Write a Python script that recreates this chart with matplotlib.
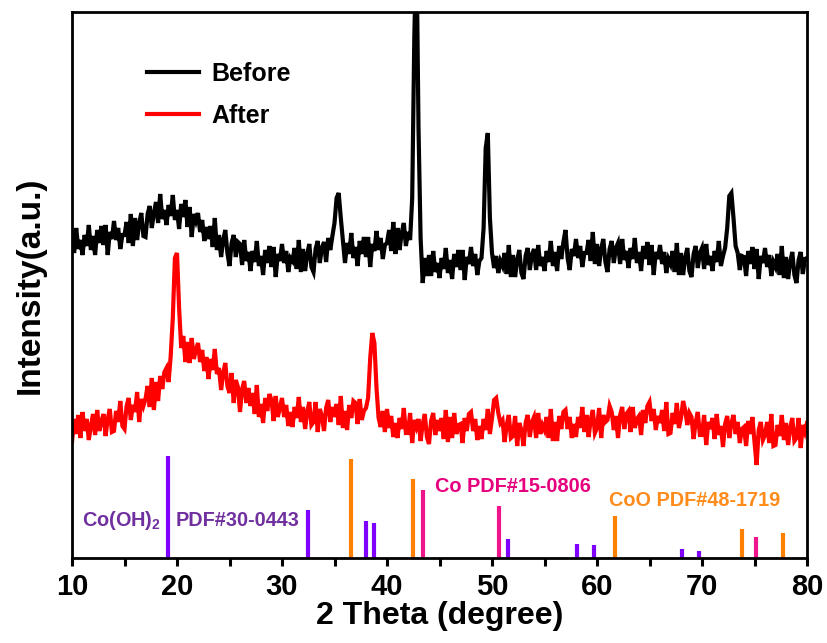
import numpy as np
import matplotlib
matplotlib.use("Agg")
import matplotlib.pyplot as plt

# ---------------- data ----------------
two_theta = np.linspace(10, 80, 351)

before = [
    326,305,330,309,318, 303,323,312,333,308, 322,303,328,315,332, 313,333,303,326,319,
    337,318,330,309,323, 323,336,315,344,312, 340,318,335,345,322, 321,344,352,330,345,
    356,335,364,339,348, 333,353,342,363,338, 348,329,354,341,358, 331,351,321,344,337,
    345,326,338,317,331, 319,332,311,340,308, 323,301,318,328,305, 292,315,323,301,316,
    314,293,318,297,306, 287,307,296,317,292, 302,283,308,295,312, 291,311,281,304,297,
    314,295,307,286,300, 297,310,289,318,286, 309,287,304,314,291, 286,309,317,295,310,
    316,296,320,308,322, 335,360,365,340,318, 295,315,304,325,300, 311,292,317,304,321,
    301,321,291,314,307, 327,308,320,299,313, 315,328,307,336,304, 330,308,325,335,312,
    326,318,360,520,620, 430,320,275,300,282, 303,282,307,286,295, 280,300,289,310,285,
    298,279,304,291,308, 288,308,278,301,294, 311,292,304,283,297, 300,330,410,425,340,
    305,290,302,285,297, 292,305,284,313,281, 303,281,298,308,285, 279,302,310,288,303,
    309,288,313,292,301, 287,307,296,317,292, 306,287,312,299,316, 328,300,288,309,302,
    319,300,312,291,305, 305,318,297,326,294, 314,292,309,319,296, 286,309,317,295,310,
    315,294,319,298,307, 290,310,299,320,295, 306,287,312,299,316, 293,313,283,306,299,
    313,294,306,285,299, 294,307,286,315,283, 305,283,300,310,287, 281,304,312,290,305,
    310,289,314,293,302, 287,307,296,317,292, 302,310,330,362,365, 340,312,305,288,302,
    301,282,307,294,311, 289,309,279,302,295, 310,291,303,282,296, 291,304,283,312,280,
    301,279,296,306,283, 275,298,306,284,299, 300,
]

after = [
    116,139,124,143,120, 146,127,139,118,132, 144,123,148,127,136, 144,122,139,149,126,
    127,147,136,157,132, 129,152,160,138,153, 146,166,136,159,152, 159,172,151,180,148,
    176,157,182,169,186, 190,176,202,240,300, 305,250,210,222,196, 216,195,220,199,208,
    215,196,208,187,201, 179,199,188,209,184, 190,168,185,195,172, 165,185,155,178,171,
    146,169,177,155,170, 152,165,144,173,141, 154,135,160,147,164, 158,137,162,141,150,
    160,141,153,132,146, 131,151,140,161,136, 151,129,146,156,133, 136,156,126,149,142,
    127,150,158,136,151, 141,154,133,162,130, 147,128,153,140,157, 155,134,159,138,147,
    150,160,200,225,215, 170,140,131,147,126, 149,130,142,121,135, 120,140,129,150,125,
    125,145,115,138,131, 139,117,134,144,121, 114,137,145,123,138, 127,140,119,148,116,
    141,120,145,124,133, 134,115,140,127,144, 146,127,139,118,132, 119,139,128,149,124,
    140,158,160,145,135, 138,116,133,143,120, 122,142,112,135,128, 112,135,143,121,136,
    141,120,145,124,133, 128,141,120,149,117, 136,117,142,129,146, 148,129,141,120,134,
    121,141,130,151,126, 143,121,138,148,125, 130,150,120,143,136, 138,152,146,128,142,
    120,143,151,129,144, 147,126,151,130,139, 142,123,148,135,152, 156,137,149,128,142,
    135,148,127,156,124, 125,145,134,155,130, 140,157,148,133,145, 141,119,136,146,123,
    123,143,113,136,129, 140,119,144,123,132, 111,134,142,120,135, 143,124,136,115,129,
    131,112,137,124,141, 116,93,128,136,118, 123,136,115,144,112, 113,133,122,143,118,
    135,113,130,140,117, 120,140,110,133,126, 135,
]

coohh_pos = [19.1, 32.5, 38.0, 38.76, 51.5, 58.07, 59.74, 68.1, 69.7]
coohh_int = [102, 48, 37, 35, 19, 14, 13, 9, 7]
coo_pos = [36.6, 42.5, 61.7, 73.8, 77.7]
coo_int = [99, 79, 42, 29, 25]
co_pos = [43.4, 50.7, 75.1]
co_int = [68, 52, 21]

x_ticks = [10, 20, 30, 40, 50, 60, 70, 80]

# ---------------- plot ----------------
plt.rcParams['font.family'] = ['Liberation Sans', 'DejaVu Sans']
plt.rcParams['font.weight'] = 'bold'
plt.rcParams['mathtext.fontset'] = 'custom'
plt.rcParams['mathtext.rm'] = 'Liberation Sans:bold'
plt.rcParams['mathtext.bf'] = 'Liberation Sans:bold'

fig = plt.figure(figsize=(8.27, 6.43), dpi=100)
ax = fig.add_axes([72/827, 85/643, 735/827, 546/643])

ax.plot(two_theta, before, color='black', lw=3.0, label='Before', solid_joinstyle='miter')
ax.plot(two_theta, after, color='#ff0000', lw=3.0, label='After', solid_joinstyle='miter')

ax.vlines(coohh_pos, 0, coohh_int, color='#8000ff', lw=3)
ax.vlines(coo_pos, 0, coo_int, color='#ff8000', lw=3)
ax.vlines(co_pos, 0, co_int, color='#f0148c', lw=3)

lab_fs = 14.3
ax.text(10.92, 37, r'Co(OH)$_\mathbf{2}$', color='#7030a0', fontsize=lab_fs, fontweight='bold', va='center', ha='left')
ax.text(19.87, 37, 'PDF#30-0443', color='#7030a0', fontsize=lab_fs, fontweight='bold', va='center', ha='left')
ax.text(44.57, 72, 'Co PDF#15-0806', color='#e6007e', fontsize=lab_fs, fontweight='bold', va='center', ha='left')
ax.text(61.14, 58, 'CoO PDF#48-1719', color='#ff8c1a', fontsize=lab_fs, fontweight='bold', va='center', ha='left')

ax.set_xlim(10, 80)
ax.set_ylim(0, 546)
ax.set_xticks(x_ticks)
ax.set_xticks([15, 25, 35, 45, 55, 65, 75], minor=True)
ax.set_yticks([])
ax.tick_params(axis='x', which='both', direction='out', length=6, width=2.2, labelsize=21, pad=5)
for lab in ax.get_xticklabels():
    lab.set_fontweight('bold')
for s in ax.spines.values():
    s.set_linewidth(2.0)

ax.set_xlabel('2 Theta (degree)', fontsize=23, fontweight='bold', labelpad=0)
ax.set_ylabel('Intensity(a.u.)', fontsize=24, fontweight='bold', labelpad=19)

leg = ax.legend(loc='upper left', bbox_to_anchor=(0.102, 0.908), frameon=False,
                fontsize=18, handlelength=2.1, handletextpad=0.48, labelspacing=0.7,
                borderpad=0, borderaxespad=0)
for t in leg.get_texts():
    t.set_fontweight('bold')
for l in leg.get_lines():
    l.set_linewidth(3)

fig.savefig('out.png', dpi=100)
